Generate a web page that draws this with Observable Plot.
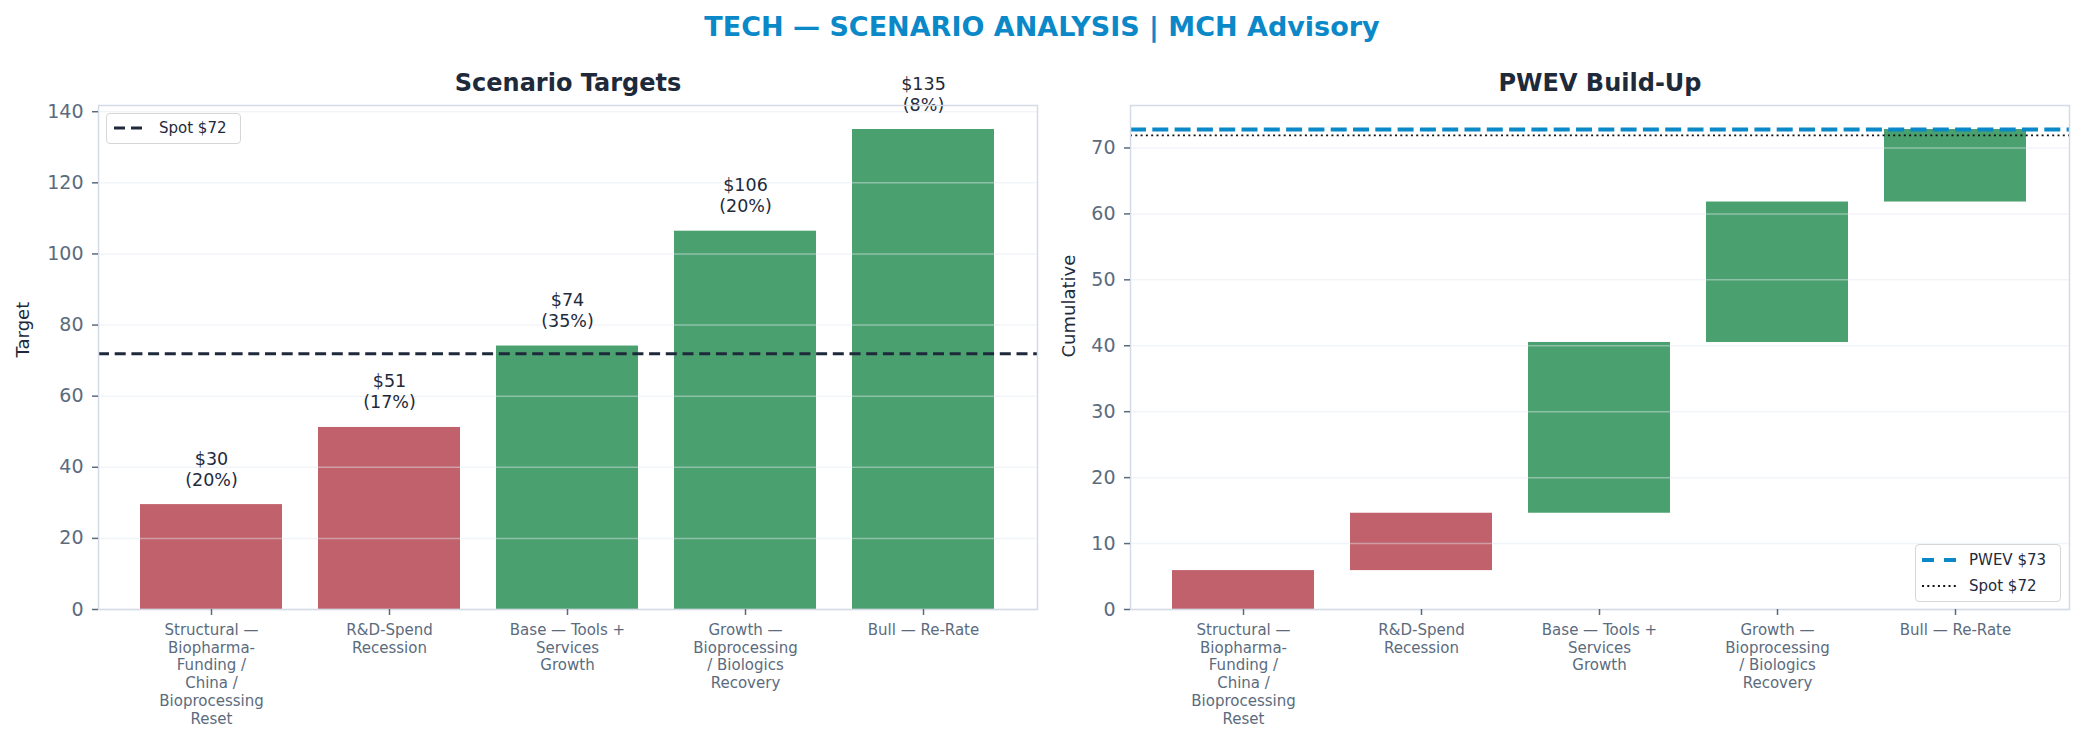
<!DOCTYPE html>
<html><head><meta charset="utf-8">
<script src="https://cdn.jsdelivr.net/npm/d3@7"></script>
<script src="https://cdn.jsdelivr.net/npm/@observablehq/plot@0.6"></script>
<style>
body{margin:0;background:#fff;font-family:"DejaVu Sans",sans-serif;}
#page{position:relative;width:2084px;height:742px;overflow:hidden;background:#fff}
#title{height:48px;line-height:54px;text-align:center;font-weight:bold;font-size:27px;color:#0a88c8}
#row{display:flex}
#row svg{display:block;font-family:"DejaVu Sans",sans-serif}
.legend{position:absolute;background:#fff;border:1.5px solid #d6d6d6;border-radius:4px;box-sizing:border-box}
.legend svg{position:absolute;left:0;top:0}
.legend span{position:absolute;font-size:15px;color:#1e2a3a;line-height:18px;white-space:nowrap}
</style></head>
<body>
<div id="page">
  <div id="title">TECH — SCENARIO ANALYSIS | MCH Advisory</div>
  <div id="row"><div id="left"></div><div id="right"></div></div>
  <div class="legend" id="legL" style="left:106px;top:113px;width:135px;height:31px">
    <svg width="135" height="31"><line x1="7" x2="36" y1="14" y2="14" stroke="#1e293b" stroke-width="3" stroke-dasharray="11,6"/></svg>
    <span style="left:52px;top:5px">Spot $72</span>
  </div>
  <div class="legend" id="legR" style="left:1915px;top:544px;width:146px;height:58px">
    <svg width="146" height="58"><line x1="6" x2="40" y1="15" y2="15" stroke="#0a88c8" stroke-width="4" stroke-dasharray="12,10"/>
    <line x1="6" x2="40" y1="41" y2="41" stroke="#111" stroke-width="1.8" stroke-dasharray="2,3.3"/></svg>
    <span style="left:53px;top:6px">PWEV $73</span>
    <span style="left:53px;top:32px">Spot $72</span>
  </div>
</div>
<script>
const scenarios = [
  "Structural — Biopharma-Funding / China / Bioprocessing Reset",
  "R&D-Spend Recession",
  "Base — Tools + Services Growth",
  "Growth — Bioprocessing / Biologics Recovery",
  "Bull — Re-Rate"
];
const tickLabels = [
  "Structural —\nBiopharma-\nFunding /\nChina /\nBioprocessing\nReset",
  "R&D-Spend\nRecession",
  "Base — Tools +\nServices\nGrowth",
  "Growth —\nBioprocessing\n/ Biologics\nRecovery",
  "Bull — Re-Rate"
];
const targets = [29.5, 51.2, 74.1, 106.4, 135.0];
const targetLabels = ["$30", "$51", "$74", "$106", "$135"];
const probabilities = [20, 17, 35, 20, 8];
const tones = ["down", "down", "up", "up", "up"];
const contributions = [5.9, 8.7, 25.9, 21.3, 11.0];
const spot = 71.9;
const pwev = 72.8;
const yTicksLeft = [0, 20, 40, 60, 80, 100, 120, 140];
const yTicksRight = [0, 10, 20, 30, 40, 50, 60, 70];

const cum = d3.cumsum(contributions);
const rows = scenarios.map((s, i) => ({
  scenario: s,
  target: targets[i],
  label: `${targetLabels[i]}\n(${probabilities[i]}%)`,
  tone: tones[i],
  low: i ? cum[i - 1] : 0,
  high: cum[i]
}));

const axisColor = "#5b6b7e";
const dark = "#1e2a3a";
const xScale = {domain: scenarios, paddingInner: 0.2, paddingOuter: 0.2375, align: 0.5};
const colorScale = {domain: ["down", "up"], range: ["#c0616b", "#4aa06e"]};
const W = 1042, H = 694, MT = 57, MB = 133;

function xAxis() {
  return Plot.axisX({
    tickFormat: d => tickLabels[scenarios.indexOf(d)],
    fontSize: 15, lineHeight: 1.18, tickSize: 6, tickPadding: 7,
    color: axisColor, strokeWidth: 1.5, label: null
  });
}
function yAxis(ticks) {
  return Plot.axisY({ticks, tickSize: 6, tickPadding: 9, fontSize: 19, color: axisColor, strokeWidth: 1.5, label: null});
}
function subtitle(t) {
  return Plot.text([t], {frameAnchor: "top", lineAnchor: "middle", dy: -22, fontSize: 24, fontWeight: "bold", fill: dark});
}
function ylabel(t, dx) {
  return Plot.text([t], {frameAnchor: "left", lineAnchor: "middle", dx, rotate: -90, fontSize: 18, fill: dark});
}

const left = Plot.plot({
  width: W, height: H,
  marginLeft: 98, marginRight: 5, marginTop: MT, marginBottom: MB,
  x: xScale,
  y: {domain: [0, 135 * 1.05]},
  color: colorScale,
  marks: [
    Plot.barY(rows, {x: "scenario", y: "target", fill: "tone"}),
    Plot.gridY({ticks: yTicksLeft, stroke: "#e3e8ef", strokeOpacity: 0.45, strokeWidth: 1.5}),
    Plot.ruleY([spot], {stroke: "#1e293b", strokeWidth: 3, strokeDasharray: "11,5.7"}),
    Plot.text(rows, {x: "scenario", y: "target", text: "label", lineAnchor: "bottom", dy: -19, fontSize: 17.5, lineHeight: 1.2, fill: dark}),
    Plot.frame({stroke: "#d4dbe6", strokeWidth: 1.5}),
    xAxis(),
    yAxis(yTicksLeft),
    ylabel("Target", -75),
    subtitle("Scenario Targets")
  ]
});
document.getElementById("left").appendChild(left);

const right = Plot.plot({
  width: W, height: H,
  marginLeft: 88, marginRight: 15, marginTop: MT, marginBottom: MB,
  x: xScale,
  y: {domain: [0, pwev * 1.05]},
  color: colorScale,
  marks: [
    Plot.barY(rows, {x: "scenario", y1: "low", y2: "high", fill: "tone"}),
    Plot.gridY({ticks: yTicksRight, stroke: "#e3e8ef", strokeOpacity: 0.45, strokeWidth: 1.5}),
    Plot.ruleY([pwev], {stroke: "#0a88c8", strokeWidth: 4, strokeDasharray: "16,6.3"}),
    Plot.ruleY([spot], {stroke: "#111", strokeWidth: 1.8, strokeDasharray: "2,3.3"}),
    Plot.frame({stroke: "#d4dbe6", strokeWidth: 1.5}),
    xAxis(),
    yAxis(yTicksRight),
    ylabel("Cumulative", -61),
    subtitle("PWEV Build-Up")
  ]
});
document.getElementById("right").appendChild(right);
</script>
</body></html>
